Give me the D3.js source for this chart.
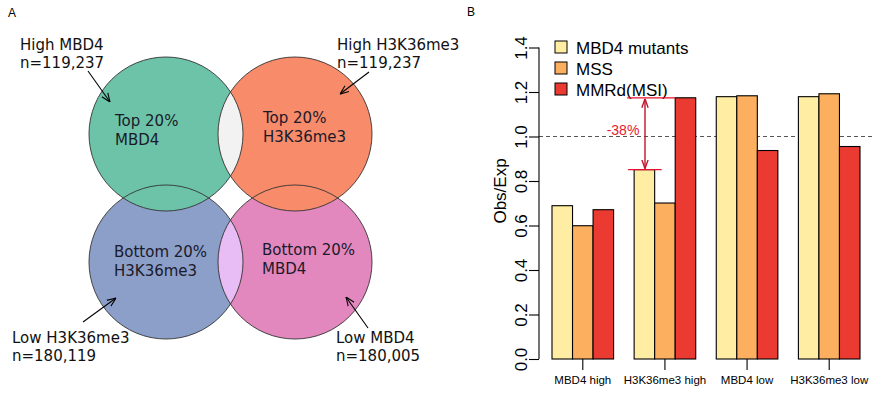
<!DOCTYPE html>
<html>
<head>
<meta charset="utf-8">
<script src="https://cdn.jsdelivr.net/npm/d3@7"></script>
<style>
  body { margin: 0; background: #fff; }
  svg { display: block; }
</style>
</head>
<body>
<svg id="chart"></svg>
<script>
// panel A: four sets of sites
var setNames = ["High MBD4", "High H3K36me3", "Low H3K36me3", "Low MBD4"];
var setCounts = ["n=119,237", "n=119,237", "n=180,119", "n=180,005"];
var setInner = [["Top 20%", "MBD4"], ["Top 20%", "H3K36me3"], ["Bottom 20%", "H3K36me3"], ["Bottom 20%", "MBD4"]];
var setColors = ["#6cc3a7", "#f78b6a", "#8c9fc8", "#e388be"];
var lensColors = ["#f2f2f2", "#e8bcf5"];

// panel B: obs/exp bars
var categories = ["MBD4 high", "H3K36me3 high", "MBD4 low", "H3K36me3 low"];
var seriesNames = ["MBD4 mutants", "MSS", "MMRd(MSI)"];
var mbd4Mut = [0.689, 0.851, 1.179, 1.179];
var mss = [0.599, 0.701, 1.183, 1.192];
var mmrd = [0.671, 1.174, 0.937, 0.955];
var seriesColors = ["#ffeda4", "#fcb05f", "#ea3a31"];
var yTicks = [0, 0.2, 0.4, 0.6, 0.8, 1.0, 1.2, 1.4];
var diffLabel = "-38%";

var width = 895, height = 398;
var svg = d3.select("#chart").attr("width", width).attr("height", height);

var defs = svg.append("defs");
defs.append("marker").attr("id", "blackHead")
  .attr("viewBox", "0 0 10 10").attr("refX", 10).attr("refY", 5)
  .attr("markerWidth", 9).attr("markerHeight", 9).attr("markerUnits", "userSpaceOnUse")
  .attr("orient", "auto")
  .append("path").attr("d", "M0,1 L10,5 L0,9").attr("fill", "none").attr("stroke", "#000").attr("stroke-width", 1.2);
defs.append("marker").attr("id", "redHead")
  .attr("viewBox", "0 0 10 10").attr("refX", 10).attr("refY", 5)
  .attr("markerWidth", 9).attr("markerHeight", 9).attr("markerUnits", "userSpaceOnUse")
  .attr("orient", "auto-start-reverse")
  .append("path").attr("d", "M0,1.5 L10,5 L0,8.5").attr("fill", "none").attr("stroke", "#c0142c").attr("stroke-width", 1.5);

/* ---------- Panel A ---------- */
var venn = svg.append("g");
var r = 77;
var centers = [[166, 134], [295, 134], [166, 262], [295, 262]];

venn.append("text").attr("x", 8).attr("y", 17).text("A")
  .style("font-family", "Liberation Sans, Arial, sans-serif").style("font-size", "12px");

// bottom sets first, top sets drawn over them
var order = [2, 3, 0, 1];
venn.selectAll("circle.fill").data(order).enter().append("circle")
  .attr("class", "fill")
  .attr("cx", function(i) { return centers[i][0]; })
  .attr("cy", function(i) { return centers[i][1]; })
  .attr("r", r)
  .attr("fill", function(i) { return setColors[i]; });

function lens(a, b) {
  var mx = (a[0] + b[0]) / 2, d = b[0] - a[0];
  var h = Math.sqrt(r * r - d * d / 4);
  return "M" + mx + "," + (a[1] - h) + " A" + r + "," + r + " 0 0 1 " + mx + "," + (a[1] + h) +
         " A" + r + "," + r + " 0 0 1 " + mx + "," + (a[1] - h) + "Z";
}
venn.append("path").attr("d", lens(centers[0], centers[1])).attr("fill", lensColors[0]);
venn.append("path").attr("d", lens(centers[2], centers[3])).attr("fill", lensColors[1]);

venn.selectAll("circle.edge").data(order).enter().append("circle")
  .attr("class", "edge")
  .attr("cx", function(i) { return centers[i][0]; })
  .attr("cy", function(i) { return centers[i][1]; })
  .attr("r", r)
  .attr("fill", "none").attr("stroke", "#333").attr("stroke-width", 0.9);

var vennFont = "DejaVu Sans, Verdana, sans-serif";
var innerPos = [[115, 126], [263, 123], [114, 257], [262, 255]];
var outerPos = [[20, 50], [337, 50], [12, 343], [336, 343]];
var arrows = [[[88, 71], [110, 102]], [[369, 72], [340, 94]], [[83, 322], [116, 298]], [[368, 328], [346, 297]]];

d3.range(4).forEach(function(i) {
  var t = venn.append("text").attr("x", innerPos[i][0]).attr("y", innerPos[i][1])
    .style("font-family", vennFont).style("font-size", "15px").attr("fill", "#1a1a2a");
  t.append("tspan").text(setInner[i][0]);
  t.append("tspan").attr("x", innerPos[i][0]).attr("dy", 19).text(setInner[i][1]);

  var o = venn.append("text").attr("x", outerPos[i][0]).attr("y", outerPos[i][1])
    .style("font-family", vennFont).style("font-size", "15px").attr("fill", "#111");
  o.append("tspan").text(setNames[i]);
  o.append("tspan").attr("x", outerPos[i][0]).attr("dy", 18).text(setCounts[i]);

  venn.append("line")
    .attr("x1", arrows[i][0][0]).attr("y1", arrows[i][0][1])
    .attr("x2", arrows[i][1][0]).attr("y2", arrows[i][1][1])
    .attr("stroke", "#000").attr("stroke-width", 1.1)
    .attr("marker-end", "url(#blackHead)");
});

/* ---------- Panel B ---------- */
var font = "Liberation Sans, Arial, sans-serif";
var bars = svg.append("g");

bars.append("text").attr("x", 467).attr("y", 16).text("B")
  .style("font-family", font).style("font-size", "12px");

var y = d3.scaleLinear().domain([0, 1.4]).range([359, 47.5]);
var x = d3.scaleBand().domain(categories).range([552, 860]).paddingInner(0.25).paddingOuter(0);
var xs = d3.scaleBand().domain(seriesNames).range([0, x.bandwidth()]).padding(0);

var series = [mbd4Mut, mss, mmrd];
var rows = categories.map(function(c, ci) {
  return seriesNames.map(function(s, si) { return { cat: c, series: s, si: si, value: series[si][ci] }; });
});

// reference line
bars.append("line")
  .attr("x1", 539).attr("x2", 874)
  .attr("y1", y(1)).attr("y2", y(1))
  .attr("stroke", "#555").attr("stroke-dasharray", "4,3").attr("stroke-width", 1);

var groups = bars.selectAll("g.grp").data(rows).enter().append("g")
  .attr("class", "grp")
  .attr("transform", function(d, i) { return "translate(" + x(categories[i]) + ",0)"; });

groups.selectAll("rect").data(function(d) { return d; }).enter().append("rect")
  .attr("x", function(d) { return xs(d.series); })
  .attr("y", function(d) { return y(d.value); })
  .attr("width", xs.bandwidth())
  .attr("height", function(d) { return y(0) - y(d.value); })
  .attr("fill", function(d) { return seriesColors[d.si]; })
  .attr("stroke", "#000").attr("stroke-width", 1.1);

// y axis
var yAxis = d3.axisLeft(y).tickValues(yTicks).tickSize(10).tickPadding(3)
  .tickFormat(d3.format(".1f"));
var yg = bars.append("g").attr("transform", "translate(539,0)").call(yAxis);
yg.select(".domain").attr("d", "M0," + y(0) + "V" + y(1.4)).attr("stroke-width", 1.1);
yg.selectAll(".tick line").attr("stroke-width", 1.1);
yg.selectAll(".tick text")
  .attr("x", null).attr("dy", null)
  .attr("transform", "translate(-12,0) rotate(-90)")
  .attr("text-anchor", "middle")
  .style("font-family", font).style("font-size", "17px").attr("fill", "#000");

bars.append("text")
  .attr("transform", "translate(506,191) rotate(-90)")
  .attr("text-anchor", "middle")
  .style("font-family", font).style("font-size", "17px")
  .text("Obs/Exp");

// x axis (ticks only)
var xAxis = d3.axisBottom(x).tickSize(11).tickPadding(6);
var xg = bars.append("g").attr("transform", "translate(0," + y(0) + ")").call(xAxis);
xg.select(".domain").remove();
xg.selectAll(".tick line").attr("stroke-width", 1.1);
xg.selectAll(".tick text").style("font-family", font).style("font-size", "11.5px").attr("fill", "#000");

// legend
var legend = bars.selectAll("g.leg").data(seriesNames).enter().append("g")
  .attr("class", "leg")
  .attr("transform", function(d, i) { return "translate(555," + (47 + i * 21) + ")"; });
legend.append("rect").attr("x", 0).attr("y", -6).attr("width", 12).attr("height", 12)
  .attr("fill", function(d, i) { return seriesColors[i]; })
  .attr("stroke", "#000").attr("stroke-width", 1);
legend.append("text").attr("x", 21).attr("y", 6.5)
  .style("font-family", font).style("font-size", "17px")
  .text(function(d) { return d; });

// annotation between MBD4 mutants and MMRd in H3K36me3 high
var hi = mmrd[1], lo = mbd4Mut[1];
var c2 = x(categories[1]);
bars.append("line").attr("x1", c2 - 7).attr("x2", c2 + 2 * xs.bandwidth())
  .attr("y1", y(hi)).attr("y2", y(hi)).attr("stroke", "#e8112d").attr("stroke-width", 1.2);
bars.append("line").attr("x1", c2 - 6).attr("x2", c2 + xs.bandwidth() + 7)
  .attr("y1", y(lo)).attr("y2", y(lo)).attr("stroke", "#e8112d").attr("stroke-width", 1.2);
bars.append("line").attr("x1", 645).attr("x2", 645)
  .attr("y1", y(hi) + 1).attr("y2", y(lo) - 1)
  .attr("stroke", "#c0142c").attr("stroke-width", 1.4)
  .attr("marker-start", "url(#redHead)").attr("marker-end", "url(#redHead)");
bars.append("text").attr("x", 623).attr("y", 135).attr("text-anchor", "middle")
  .style("font-family", font).style("font-size", "14px").attr("fill", "#e41a2c")
  .text(diffLabel);
</script>
</body>
</html>
